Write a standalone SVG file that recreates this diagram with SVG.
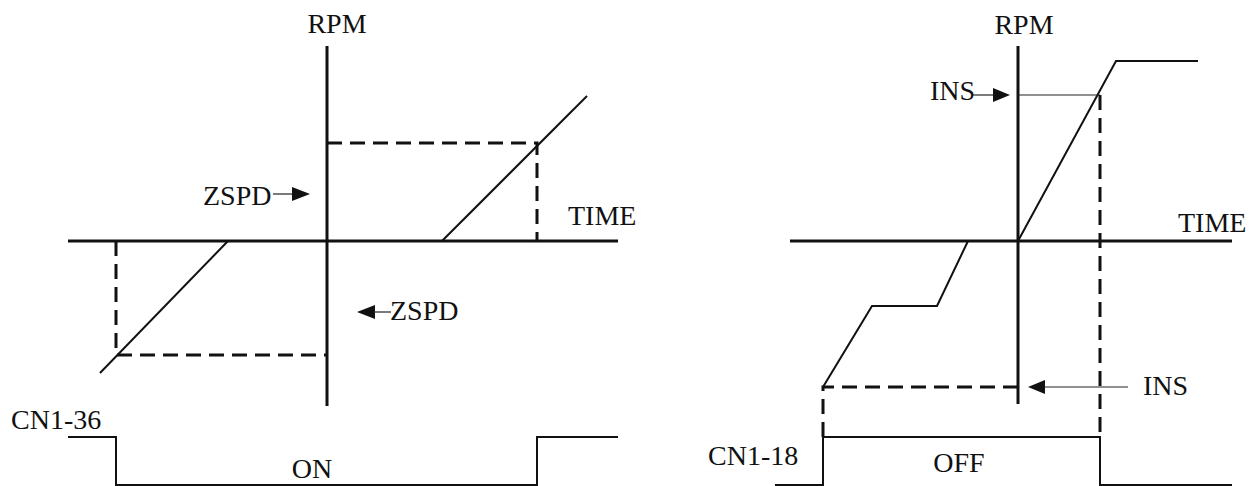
<svg xmlns="http://www.w3.org/2000/svg" width="1251" height="486" viewBox="0 0 1251 486">
<style>
.t{font-family:"Liberation Serif","Times New Roman",serif;font-size:28px;fill:#111}
.ax{stroke:#111;stroke-width:3;fill:none}
.ln{stroke:#111;stroke-width:2;fill:none;stroke-linejoin:miter}
.ds{stroke:#111;stroke-width:3;fill:none;stroke-dasharray:15 8}
.th{stroke:#222;stroke-width:1.2;fill:none}
.ah{fill:#111}
</style>
<rect width="1251" height="486" fill="#fff"/>
<g id="left-chart">
  <g id="left-axes">
    <line class="ax" x1="327" y1="46" x2="327" y2="406"/>
    <line class="ax" x1="68" y1="241" x2="618" y2="241"/>
    <text class="t" x="337" y="33" text-anchor="middle">RPM</text>
    <text class="t" x="568" y="225">TIME</text>
  </g>
  <g id="left-curves">
    <line class="ln" x1="442" y1="241" x2="587" y2="96"/>
    <polyline class="ds" points="327,143 537,143 537,241"/>
    <line class="ln" x1="228" y1="241" x2="100" y2="373"/>
    <polyline class="ds" points="116,241 116,355 327,355"/>
  </g>
  <g id="left-zspd-top">
    <text class="t" x="203" y="205">ZSPD</text>
    <line class="th" x1="273" y1="194" x2="294" y2="194"/>
    <polygon class="ah" points="292,187 310,194 292,201"/>
  </g>
  <g id="left-zspd-bottom">
    <polygon class="ah" points="357,312 375,305 375,319"/>
    <line class="th" x1="374" y1="312" x2="391" y2="312"/>
    <text class="t" x="390" y="320">ZSPD</text>
  </g>
  <g id="cn1-36">
    <text class="t" x="11" y="429">CN1-36</text>
    <polyline class="ln" points="68,437 116,437 116,485 537,485 537,437 618,437"/>
    <text class="t" x="312" y="478" text-anchor="middle">ON</text>
  </g>
</g>
<g id="right-chart">
  <g id="right-axes">
    <line class="ax" x1="1018" y1="46" x2="1018" y2="404"/>
    <line class="ax" x1="790" y1="241" x2="1232" y2="241"/>
    <text class="t" x="1024" y="34" text-anchor="middle">RPM</text>
    <text class="t" x="1178" y="232">TIME</text>
  </g>
  <g id="right-curves">
    <polyline class="ln" points="1018,241 1116,61 1198,61"/>
    <line class="th" x1="1018" y1="95" x2="1100" y2="95"/>
    <line class="ds" x1="1100" y1="95" x2="1100" y2="437"/>
    <polyline class="ln" points="968,241 937,306 872,306 823,387"/>
    <polyline class="ds" points="1018,387 823,387 823,437"/>
  </g>
  <g id="right-ins-top">
    <text class="t" x="930" y="100">INS</text>
    <line class="th" x1="973" y1="95" x2="994" y2="95"/>
    <polygon class="ah" points="993,88 1010,95 993,102"/>
  </g>
  <g id="right-ins-bottom">
    <polygon class="ah" points="1028,387 1045,380 1045,394"/>
    <line class="th" x1="1044" y1="387" x2="1128" y2="387"/>
    <text class="t" x="1143" y="395">INS</text>
  </g>
  <g id="cn1-18">
    <text class="t" x="708" y="465">CN1-18</text>
    <polyline class="ln" points="775,485 823,485 823,437 1100,437 1100,485 1232,485"/>
    <text class="t" x="959" y="472" text-anchor="middle">OFF</text>
  </g>
</g>
</svg>
